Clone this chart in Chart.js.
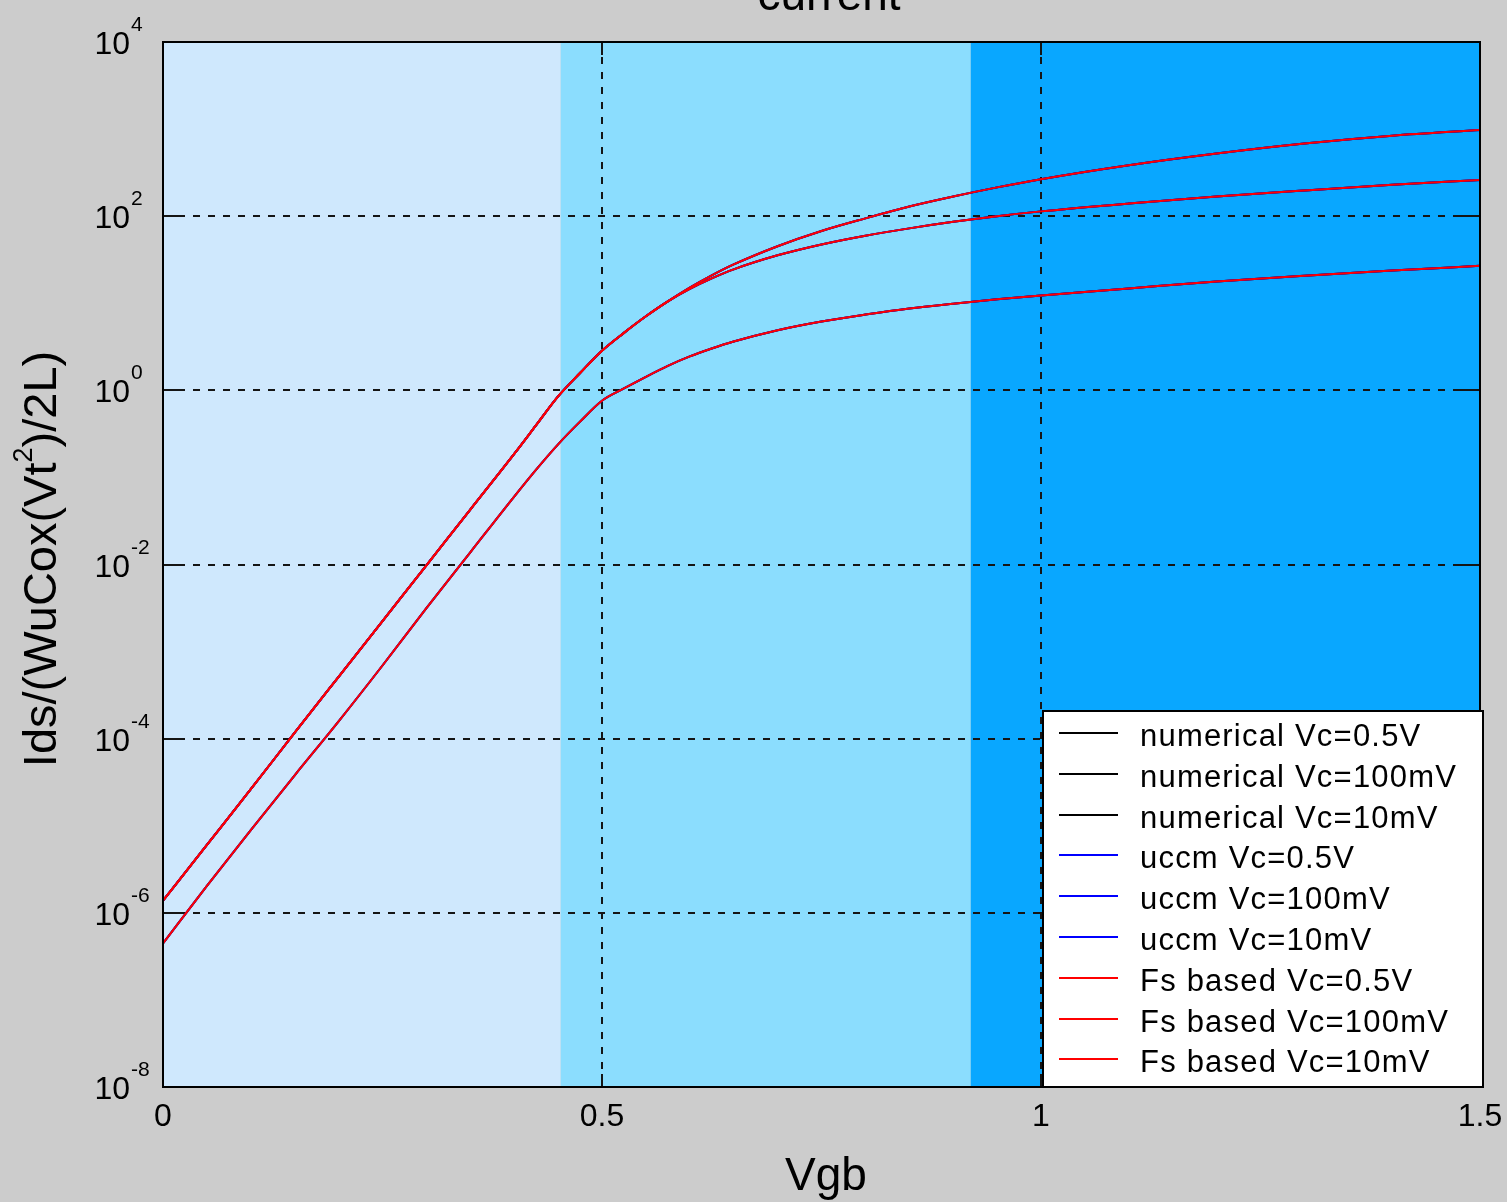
<!DOCTYPE html>
<html><head><meta charset="utf-8">
<script src="https://cdn.jsdelivr.net/npm/chart.js@4.4.0/dist/chart.umd.min.js"></script>
<style>html,body{margin:0;padding:0;background:#cccccc;overflow:hidden}#wrap{width:1507px;height:1202px;position:relative}canvas{display:block}</style>
</head><body><div id="wrap"><canvas id="c" width="1507" height="1202"></canvas></div>
<script>
// ---- data ----
const vgb = [0, 0.05, 0.1, 0.15, 0.2, 0.25, 0.3, 0.35, 0.4, 0.425, 0.45, 0.475, 0.5, 0.525, 0.55, 0.575, 0.6, 0.625, 0.65, 0.7, 0.75, 0.8, 0.85, 0.9, 0.95, 1.0, 1.1, 1.2, 1.3, 1.4, 1.5];
const idsVc05 = [1.38e-6, 6.03e-6, 2.63e-5, 1.17e-4, 5.13e-4, 2.24e-3, 9.77e-3, 4.27e-2, 0.186, 0.398, 0.851, 1.58, 2.85, 4.57, 7.08, 10.5, 15.1, 20.9, 27.9, 45.2, 67.6, 94.4, 129, 168, 214, 266, 385, 525, 684, 841, 977];
const idsVc100m = [1.38e-6, 6.03e-6, 2.63e-5, 1.17e-4, 5.13e-4, 2.24e-3, 9.77e-3, 4.27e-2, 0.186, 0.398, 0.851, 1.58, 2.85, 4.57, 7.08, 10.5, 14.6, 19.3, 24.5, 35.5, 47.3, 59.6, 72.4, 86.1, 100, 113.5, 139.6, 167.9, 197.2, 229.1, 260];
const idsVc10m = [4.47e-7, 2.04e-6, 8.91e-6, 3.80e-5, 1.58e-4, 6.92e-4, 3.16e-3, 1.38e-2, 6.03e-2, 0.123, 0.240, 0.437, 0.759, 1.05, 1.43, 1.91, 2.45, 3.02, 3.63, 4.90, 6.17, 7.41, 8.71, 9.89, 11.1, 12.3, 14.8, 17.8, 20.7, 23.7, 26.9];

const xTicks = [0, 0.5, 1, 1.5];
const xTickLabels = ['0', '0.5', '1', '1.5'];
const yTickExponents = [-8, -6, -4, -2, 0, 2, 4];
const bandEdges = [0, 0.453, 0.92, 1.5];
const bandColors = ['#cfe8fd', '#8bddfe', '#09a7ff'];
const methods = ['numerical', 'uccm', 'Fs based'];
const methodColors = ['#000000', '#0000ff', '#ff0000'];
const vcLabels = ['Vc=0.5V', 'Vc=100mV', 'Vc=10mV'];
const seriesByVc = [idsVc05, idsVc100m, idsVc10m];

const FONT = '"Liberation Sans", Arial, sans-serif';

const datasets = [];
methods.forEach((m, mi) => {
  seriesByVc.forEach((arr, vi) => {
    datasets.push({
      label: m + ' ' + vcLabels[vi],
      data: vgb.map((v, i) => ({x: v, y: arr[i]})),
      borderColor: methodColors[mi],
      backgroundColor: methodColors[mi],
      borderWidth: 2,
      pointRadius: 0,
      fill: false,
      cubicInterpolationMode: 'monotone',
      order: 3 - mi
    });
  });
});

function seg(ctx, x0, y0, x1, y1) { ctx.beginPath(); ctx.moveTo(x0, y0); ctx.lineTo(x1, y1); ctx.stroke(); }

const matlabPlugin = {
  id: 'matlab',
  beforeDraw(chart) {
    const {ctx, chartArea: a} = chart;
    const x = chart.scales.x, y = chart.scales.y;
    ctx.save();
    ctx.fillStyle = '#cccccc';
    ctx.fillRect(0, 0, chart.width, chart.height);
    for (let i = 0; i < bandColors.length; i++) {
      const x0 = x.getPixelForValue(bandEdges[i]), x1 = x.getPixelForValue(bandEdges[i + 1]);
      ctx.fillStyle = bandColors[i];
      ctx.fillRect(x0, a.top, x1 - x0, a.bottom - a.top);
    }
    ctx.strokeStyle = '#151515';
    ctx.lineWidth = 2;
    ctx.setLineDash([7, 8]);
    xTicks.forEach(v => {
      const px = Math.round(x.getPixelForValue(v));
      if (px <= a.left + 2 || px >= a.right - 2) return;
      seg(ctx, px, a.top, px, a.bottom);
    });
    yTickExponents.forEach(e => {
      const py = Math.round(y.getPixelForValue(Math.pow(10, e)));
      if (py <= a.top + 2 || py >= a.bottom - 2) return;
      seg(ctx, a.left, py, a.right, py);
    });
    ctx.setLineDash([]);
    xTicks.forEach(v => {
      const px = Math.round(x.getPixelForValue(v));
      seg(ctx, px, a.bottom, px, a.bottom - 13);
      seg(ctx, px, a.top, px, a.top + 13);
    });
    yTickExponents.forEach(e => {
      const py = Math.round(y.getPixelForValue(Math.pow(10, e)));
      seg(ctx, a.left, py, a.left + 22, py);
      seg(ctx, a.right, py, a.right - 22, py);
    });
    ctx.restore();
  },
  afterDatasetsDraw(chart) {
    const {ctx, chartArea: a} = chart;
    const x = chart.scales.x, y = chart.scales.y;
    ctx.save();
    ctx.strokeStyle = '#000';
    ctx.lineWidth = 2;
    ctx.strokeRect(a.left, a.top, a.right - a.left, a.bottom - a.top);
    ctx.fillStyle = '#000';
    ctx.textBaseline = 'alphabetic';
    yTickExponents.forEach(e => {
      const py = y.getPixelForValue(Math.pow(10, e));
      ctx.font = '32px ' + FONT;
      ctx.textAlign = 'right';
      ctx.fillText('10', 130, py + 12);
      ctx.font = '21px ' + FONT;
      ctx.textAlign = 'left';
      ctx.fillText(String(e), 131, py - 11);
    });
    ctx.font = '32px ' + FONT;
    ctx.textAlign = 'center';
    xTicks.forEach((v, i) => {
      ctx.fillText(xTickLabels[i], x.getPixelForValue(v), 1126);
    });
    ctx.font = '46px ' + FONT;
    ctx.fillText('Vgb', 826, 1190);
    ctx.fillText('current', 829, 10);
    ctx.save();
    ctx.translate(56, 559);
    ctx.rotate(-Math.PI / 2);
    const p1 = 'Ids/(WuCox(Vt', p2 = '2', p3 = ')/2L)';
    ctx.font = '47px ' + FONT;
    const w1 = ctx.measureText(p1).width, w3 = ctx.measureText(p3).width;
    ctx.font = '27px ' + FONT;
    const w2 = ctx.measureText(p2).width;
    const total = w1 + w2 + w3;
    let sx = -total / 2;
    ctx.textAlign = 'left';
    ctx.font = '47px ' + FONT;
    ctx.fillText(p1, sx, 0); sx += w1;
    ctx.font = '27px ' + FONT;
    ctx.fillText(p2, sx, -24); sx += w2;
    ctx.font = '47px ' + FONT;
    ctx.fillText(p3, sx, 0);
    ctx.restore();
    // legend
    const lx0 = 1043, ly0 = 711, lx1 = 1483, ly1 = 1087;
    ctx.fillStyle = '#ffffff';
    ctx.fillRect(lx0, ly0, lx1 - lx0, ly1 - ly0);
    ctx.strokeStyle = '#000';
    ctx.lineWidth = 2;
    ctx.strokeRect(lx0, ly0, lx1 - lx0, ly1 - ly0);
    ctx.font = '31px ' + FONT;
    ctx.textAlign = 'left';
    try { ctx.letterSpacing = '1.2px'; } catch (e) {}
    chart.data.datasets.forEach((ds, i) => {
      const ly = Math.round(733 + i * 40.8);
      ctx.strokeStyle = ds.borderColor;
      ctx.lineWidth = 2;
      seg(ctx, 1059, ly, 1118, ly);
      ctx.fillStyle = '#000';
      ctx.fillText(ds.label, 1140, ly + 13);
    });
    ctx.restore();
  }
};

new Chart(document.getElementById('c'), {
  type: 'line',
  data: {datasets},
  options: {
    responsive: false,
    animation: false,
    devicePixelRatio: 1,
    layout: {padding: {left: 163, top: 42, right: 27, bottom: 115}},
    scales: {
      x: {type: 'linear', min: 0, max: 1.5, display: false},
      y: {type: 'logarithmic', min: 1e-8, max: 1e4, display: false}
    },
    plugins: {legend: {display: false}, tooltip: {enabled: false}, title: {display: false}}
  },
  plugins: [matlabPlugin]
});
</script>
</body></html>
